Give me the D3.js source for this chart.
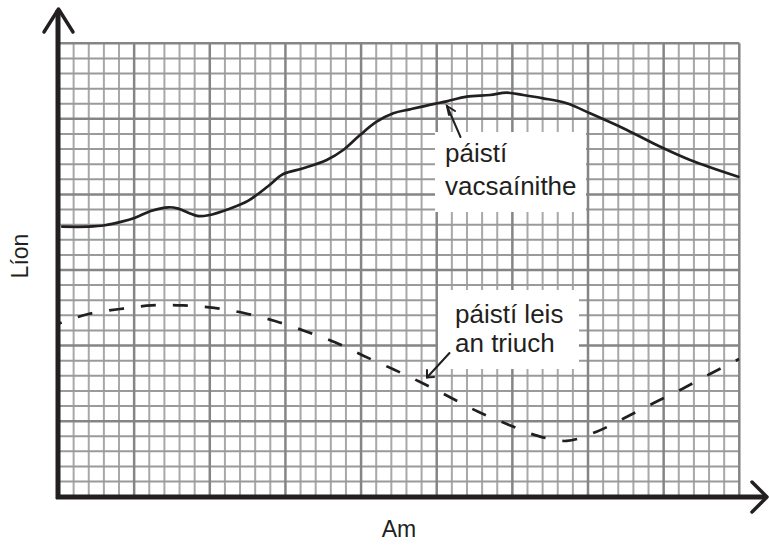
<!DOCTYPE html>
<html>
<head>
<meta charset="utf-8">
<script src="https://cdn.jsdelivr.net/npm/d3@7"></script>
<style>
  html, body { margin: 0; padding: 0; background: #fff; }
  svg { display: block; }
</style>
</head>
<body>
<svg id="chart" width="769" height="545"></svg>
<script>
// ---- data (grid units: x in minor cells 0..45, y in minor cells 0..30) ----
const gridCols = 45;
const gridRows = 30;
const majorEvery = 5;

const vaccX = [0.25, 1.97, 3.07, 4.18, 5.06, 6.16, 7.26, 7.92, 8.58, 9.24, 9.9, 11.22, 12.55, 13.87, 14.86, 16.18, 17.73, 18.82, 19.93, 21.03, 22.13, 23.23, 24.77, 25.66, 26.98, 28.52, 29.62, 30.72, 32.04, 33.59, 35.13, 37.33, 39.54, 41.75, 44.93];
const vaccY = [17.87, 17.87, 17.96, 18.2, 18.46, 18.92, 19.15, 19.06, 18.79, 18.57, 18.62, 19.02, 19.59, 20.56, 21.35, 21.73, 22.28, 22.94, 23.93, 24.81, 25.37, 25.63, 25.98, 26.16, 26.47, 26.58, 26.73, 26.58, 26.36, 26.03, 25.37, 24.38, 23.27, 22.28, 21.17];

const trialX = [0.03, 1.97, 4.07, 6.16, 8.25, 10.3, 12.33, 14.36, 16.41, 18.28, 20.15, 22.13, 24.01, 25.88, 27.75, 29.63, 31.56, 33.59, 35.56, 37.38, 39.31, 41.19, 43.06, 44.98];
const trialY = [11.46, 12.09, 12.42, 12.66, 12.66, 12.49, 12.14, 11.61, 10.92, 10.22, 9.33, 8.43, 7.54, 6.58, 5.62, 4.81, 4.06, 3.69, 4.3, 5.19, 6.18, 7.11, 8.12, 9.11];

const labelVacc = ["páistí", "vacsaínithe"];
const labelTrial = ["páistí leis", "an triuch"];
const xTitle = "Am";
const yTitle = "Líon";

// ---- layout ----
const svg = d3.select("#chart");
const pLeft = 58.5, pRight = 739.3, pTop = 43.3, pBottom = 496.7;
const x = d3.scaleLinear().domain([0, gridCols]).range([pLeft, pRight]);
const y = d3.scaleLinear().domain([0, gridRows]).range([pBottom, pTop]);
const ink = "#231f20";
const font = "'Liberation Sans', Arial, Helvetica, sans-serif";

// grid
const g = svg.append("g");
const cols = d3.range(0, gridCols + 1);
const rows = d3.range(0, gridRows + 1);
g.selectAll("line.v").data(cols.filter(d => d % majorEvery !== 0)).join("line")
  .attr("x1", d => x(d)).attr("x2", d => x(d)).attr("y1", y(0)).attr("y2", y(gridRows))
  .attr("stroke", "#a8a8a8").attr("stroke-width", 2);
g.selectAll("line.h").data(rows.filter(d => d % majorEvery !== 0)).join("line")
  .attr("y1", d => y(d)).attr("y2", d => y(d)).attr("x1", x(0)).attr("x2", x(gridCols))
  .attr("stroke", "#9a9a9a").attr("stroke-width", 2);
g.selectAll("line.vm").data(cols.filter(d => d % majorEvery === 0)).join("line")
  .attr("x1", d => x(d)).attr("x2", d => x(d)).attr("y1", y(0)).attr("y2", y(gridRows))
  .attr("stroke", "#858585").attr("stroke-width", 2.5);
g.selectAll("line.hm").data(rows.filter(d => d % majorEvery === 0)).join("line")
  .attr("y1", d => y(d)).attr("y2", d => y(d)).attr("x1", x(0)).attr("x2", x(gridCols))
  .attr("stroke", "#858585").attr("stroke-width", 2.5);

// label boxes
svg.append("rect").attr("x", 435).attr("y", 132).attr("width", 151).attr("height", 80).attr("fill", "#fff");
svg.append("rect").attr("x", 438).attr("y", 290).attr("width", 141).attr("height", 79).attr("fill", "#fff");

// curves
const line = d3.line().x(d => x(d[0])).y(d => y(d[1])).curve(d3.curveCatmullRom.alpha(0.5));
svg.append("path").datum(d3.zip(vaccX, vaccY)).attr("d", line)
  .attr("fill", "none").attr("stroke", ink).attr("stroke-width", 2.7).attr("stroke-linecap", "round");
svg.append("path").datum(d3.zip(trialX, trialY)).attr("d", line)
  .attr("fill", "none").attr("stroke", ink).attr("stroke-width", 2.7)
  .attr("stroke-dasharray", "15,17").attr("stroke-dashoffset", 12);

// axes
const ax = svg.append("g").attr("stroke", ink).attr("fill", "none").attr("stroke-linecap", "round").attr("stroke-linejoin", "round");
ax.append("line").attr("x1", 58).attr("x2", 58).attr("y1", 10).attr("y2", 499).attr("stroke-width", 5).attr("stroke-linecap", "butt");
ax.append("path").attr("d", "M44,32L58.5,9L73,32").attr("stroke-width", 3.5);
ax.append("line").attr("x1", 56).attr("x2", 766).attr("y1", 497).attr("y2", 497).attr("stroke-width", 5).attr("stroke-linecap", "butt");
ax.append("path").attr("d", "M752,482L767,497L752,512").attr("stroke-width", 3.5);

// annotation arrows
const arr = svg.append("g").attr("stroke", ink).attr("fill", "none").attr("stroke-width", 2).attr("stroke-linecap", "round");
arr.append("line").attr("x1", 460.5).attr("y1", 137).attr("x2", 447).attr("y2", 106);
arr.append("path").attr("d", "M449,115L447,106L455,111");
arr.append("line").attr("x1", 449.5).attr("y1", 353).attr("x2", 427).attr("y2", 377.5);
arr.append("path").attr("d", "M427,370L427,377.5L434,377");

// labels
const t = svg.append("g").attr("font-family", font).attr("fill", ink);
t.selectAll("text.lv").data(labelVacc).join("text")
  .attr("x", 445).attr("y", (d, i) => 162 + i * 32.5).attr("font-size", 26).text(d => d);
t.selectAll("text.lt").data(labelTrial).join("text")
  .attr("x", 455).attr("y", (d, i) => 323 + i * 28.5).attr("font-size", 26).text(d => d);
t.append("text").attr("x", 399).attr("y", 537).attr("text-anchor", "middle").attr("font-size", 23).text(xTitle);
t.append("text").attr("transform", "translate(28,256) rotate(-90)").attr("text-anchor", "middle").attr("font-size", 23).text(yTitle);
</script>
</body>
</html>
